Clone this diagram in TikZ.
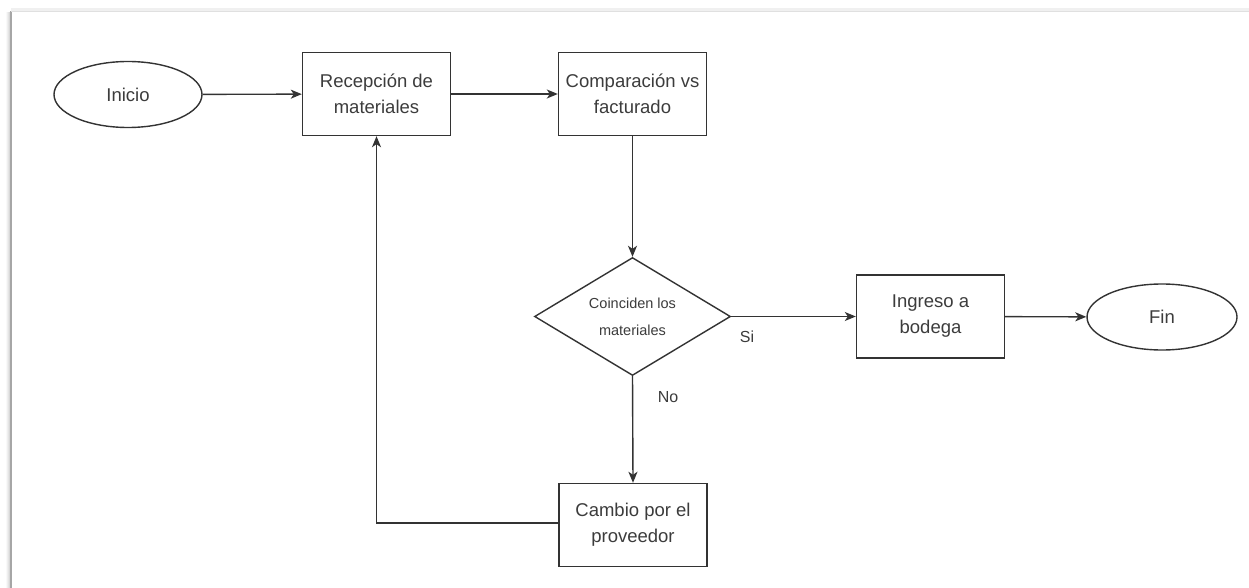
\documentclass[tikz,border=0pt]{standalone}
\usepackage{fontspec}
\setmainfont{Liberation Sans}
\usetikzlibrary{shapes.geometric,arrows.meta}
\definecolor{ink}{HTML}{333333}
\definecolor{txt}{HTML}{3C3C3C}
\tikzset{
  stepbox/.style={draw=ink, line width=1.4pt, rectangle, minimum width=148pt, minimum height=83pt,
    align=center, text=txt, font=\fontsize{18.5}{26}\selectfont, inner sep=2pt},
  terminal/.style={draw=ink, line width=1.4pt, ellipse, minimum width=148pt, minimum height=66pt,
    inner sep=0pt, text=txt, font=\fontsize{18.5}{26}\selectfont},
  decision/.style={draw=ink, line width=1.4pt, diamond, aspect=1.66, minimum width=196pt,
    minimum height=118pt, inner sep=0pt, align=center, text=txt, font=\fontsize{14.5}{27}\selectfont},
  flow/.style={draw=ink, line width=1.4pt, -{Stealth[length=11pt,width=9pt,inset=3pt]}},
  edgelabel/.style={text=txt, font=\fontsize{16}{18}\selectfont, inner sep=0pt}
}
\begin{document}
\begin{tikzpicture}[x=1pt,y=-1pt]
  \useasboundingbox[fill=white] (0,0) rectangle (1249,588);
  % page edge with a soft shadow
  \foreach \o/\op in {4/0.06,3/0.10,2/0.16,1/0.25}{
    \draw[black!40, opacity=\op, line width=1.5pt] (11-\o,12) -- (11-\o,588);
  }
  \draw[black!35, line width=1.6pt] (11,11) -- (11,588);
  \draw[black!12, line width=1.5pt] (11,11) -- (1249,11);
  \draw[black!6, line width=2.5pt] (11,9.5) -- (1249,9.5);

  % nodes
  \node[terminal] (ini) at (128,94.5) {Inicio};
  \node[stepbox]  (rec) at (376.5,94) {Recepción de\\materiales};
  \node[stepbox]  (cmp) at (632.5,94) {Comparación vs\\facturado};
  \node[decision] (dec) at (632.5,316.5) {Coinciden los\\materiales};
  \node[stepbox]  (ing) at (930.5,316.5) {Ingreso a\\bodega};
  \node[terminal, minimum width=150pt] (fin) at (1162,317) {Fin};
  \node[stepbox]  (cam) at (633,525) {Cambio por el\\proveedor};

  % connectors
  \draw[flow] (ini) -- (rec);
  \draw[flow] (rec) -- (cmp);
  \draw[flow] (cmp) -- (dec);
  \draw[flow] (dec.east) -- (ing.west);
  \draw[flow] (ing) -- (fin);
  \draw[flow] (dec.south) -- (cam.north);
  \coordinate (back) at (376.5,523);
  \draw[flow] (cam.west |- back) -- (back) -- (rec.south);

  % branch labels
  \node[edgelabel] (si) at (747,337) {Si};
  \node[edgelabel] (no) at (668,397) {No};
\end{tikzpicture}
\end{document}
